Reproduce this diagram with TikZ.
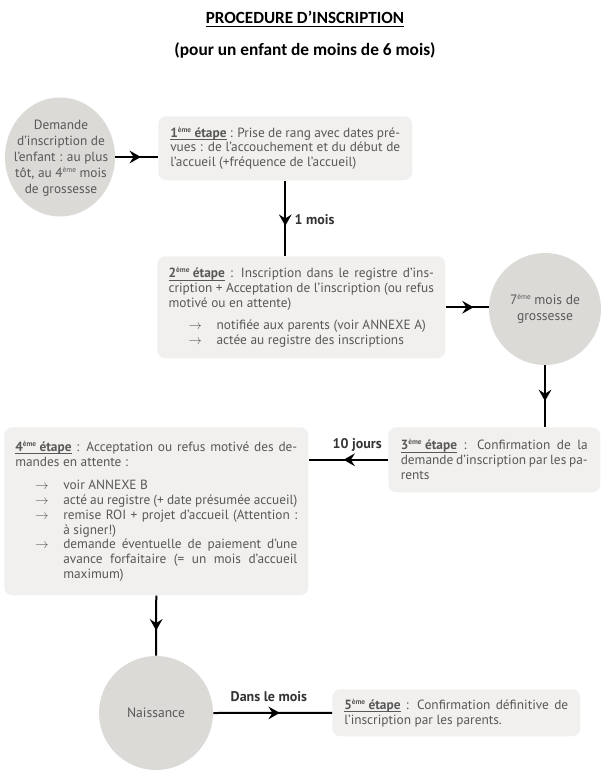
\documentclass[tikz,border=0pt]{standalone}
\usepackage{fontspec}
\setmainfont{PT Sans}
\newfontfamily\titlefont{Carlito}
\usetikzlibrary{shapes.geometric,arrows.meta,decorations.markings}
\definecolor{txtgray}{HTML}{585858}
\definecolor{circfill}{HTML}{DCDAD7}
\definecolor{boxfill}{HTML}{F1F0EE}
\definecolor{lblcol}{HTML}{333333}
\newsavebox{\ulsave}
\newcommand{\eme}{\raisebox{0.75ex}{\fontsize{5.5}{6}\selectfont ème}}
\newcommand{\arritem}[1]{\par\noindent\makebox[36pt][l]{\hspace{15pt}$\rightarrow$}\parbox[t]{\dimexpr\hsize-36pt\relax}{#1}}
\newcommand{\etape}[1]{\sbox{\ulsave}{\textbf{#1\eme\ étape}}\rlap{\rule[-1.8pt]{\wd\ulsave}{0.5pt}}\usebox{\ulsave}}
\tikzset{
  stepbox/.style={draw=none, fill=boxfill, rounded corners=6pt, anchor=north west,
    text=txtgray, align=justify, inner xsep=0pt, inner ysep=0pt,
    font=\fontsize{10}{11.2}\selectfont},
  circnode/.style={fill=circfill, draw=none, text=txtgray, align=center, inner sep=0pt,
    font=\fontsize{10.2}{12}\selectfont},
  circtext/.style={text=txtgray, align=center, inner sep=0pt, font=\fontsize{10}{12}\selectfont},
  lbl/.style={anchor=west, text=lblcol, font=\bfseries\fontsize{10.5}{12}\selectfont},
  conn/.style={line width=1.5pt, draw=black},
  midarrow/.style={postaction={decorate}, decoration={markings,
    mark=at position #1 with {\arrow{Stealth[length=8.5pt,width=9.5pt,inset=3pt]}}}}
}
\begin{document}
\begin{tikzpicture}[x=0.75pt,y=-0.75pt]
\useasboundingbox (0,0) rectangle (605,778);
% titles
\node[font=\titlefont\bfseries\fontsize{12.8}{15}\selectfont] (title) at (305,19) {\underline{PROCEDURE D’INSCRIPTION}};
\node[font=\titlefont\bfseries\fontsize{13}{15}\selectfont] (subtitle) at (305,50) {(pour un enfant de moins de 6 mois)};
% circles
\node[circnode, ellipse, minimum width=82.5pt, minimum height=89.25pt] (c1) at (60,157) {};
\node[circtext] (c1t) at (61,158)
  {Demande\\d'inscription de\\l'enfant : au plus\\tôt, au 4\eme\ mois\\de grossesse};
\node[circnode, circle, minimum size=84pt] (c2) at (545,309) {7\eme\ mois de\\grossesse};
\node[circnode, circle, minimum size=85.5pt] (c3) at (156,713) {Naissance};
% boxes
\node[stepbox, minimum width=190.5pt, minimum height=48pt, text width=172.5pt] (b1) at (158,116)
  {\etape{1} : Prise de rang avec dates pré-\linebreak vues : de l'accouchement et du début de\linebreak l'accueil (+fréquence de l'accueil)};
\node[stepbox, minimum width=216pt, minimum height=76.5pt, text width=199pt] (b2) at (157,256)
  {\etape{2} : Inscription dans le registre d'ins-\linebreak cription + Acceptation de l'inscription (ou refus\linebreak motivé ou en attente)\par\vspace{5pt}%
   \arritem{notifiée aux parents (voir ANNEXE A)}%
   \arritem{actée au registre des inscriptions}};
\node[stepbox, minimum width=159pt, minimum height=48.75pt, text width=140.25pt] (b3) at (388,427)
  {\etape{3} : Confirmation de la\linebreak demande d'inscription par les pa-\linebreak rents};
\node[stepbox, minimum width=228pt, minimum height=126pt, text width=211.5pt] (b4) at (4,427)
  {\etape{4} : Acceptation ou refus motivé des de-\linebreak mandes en attente :\par\vspace{6pt}%
   \arritem{voir ANNEXE B}%
   \arritem{acté au registre (+ date présumée accueil)}%
   \arritem{remise ROI + projet d'accueil (Attention :\linebreak à signer!)}%
   \arritem{demande éventuelle de paiement d'une\linebreak avance forfaitaire (= un mois d'accueil\linebreak maximum)}};
\node[stepbox, minimum width=186pt, minimum height=35.25pt, text width=168pt] (b5) at (332,689)
  {\etape{5} : Confirmation définitive de\linebreak l'inscription par les parents.};
% connectors
\draw[conn, midarrow=0.6] (c1.east) -- (c1.east -| b1.west);
\draw[conn, midarrow=0.6] (b1.south) -- (b1.south |- b2.north);
\draw[conn, midarrow=0.65] (b2.east) -- (b2.east -| c2.west);
\draw[conn, midarrow=0.58] (c2.south) -- (c2.south |- b3.north);
\draw[conn, midarrow=0.56] (b3.west) -- (b3.west -| b4.east);
\draw[conn, midarrow=0.58] (b4.south) -- (c3.north);
\draw[conn, midarrow=0.56] (c3.east) -- (b5.west);
% labels
\node[lbl] (l1) at (290,220) {1 mois};
\node[lbl] (l2) at (328,445) {10 jours};
\node[lbl] (l3) at (226,697) {Dans le mois};
\end{tikzpicture}
\end{document}
